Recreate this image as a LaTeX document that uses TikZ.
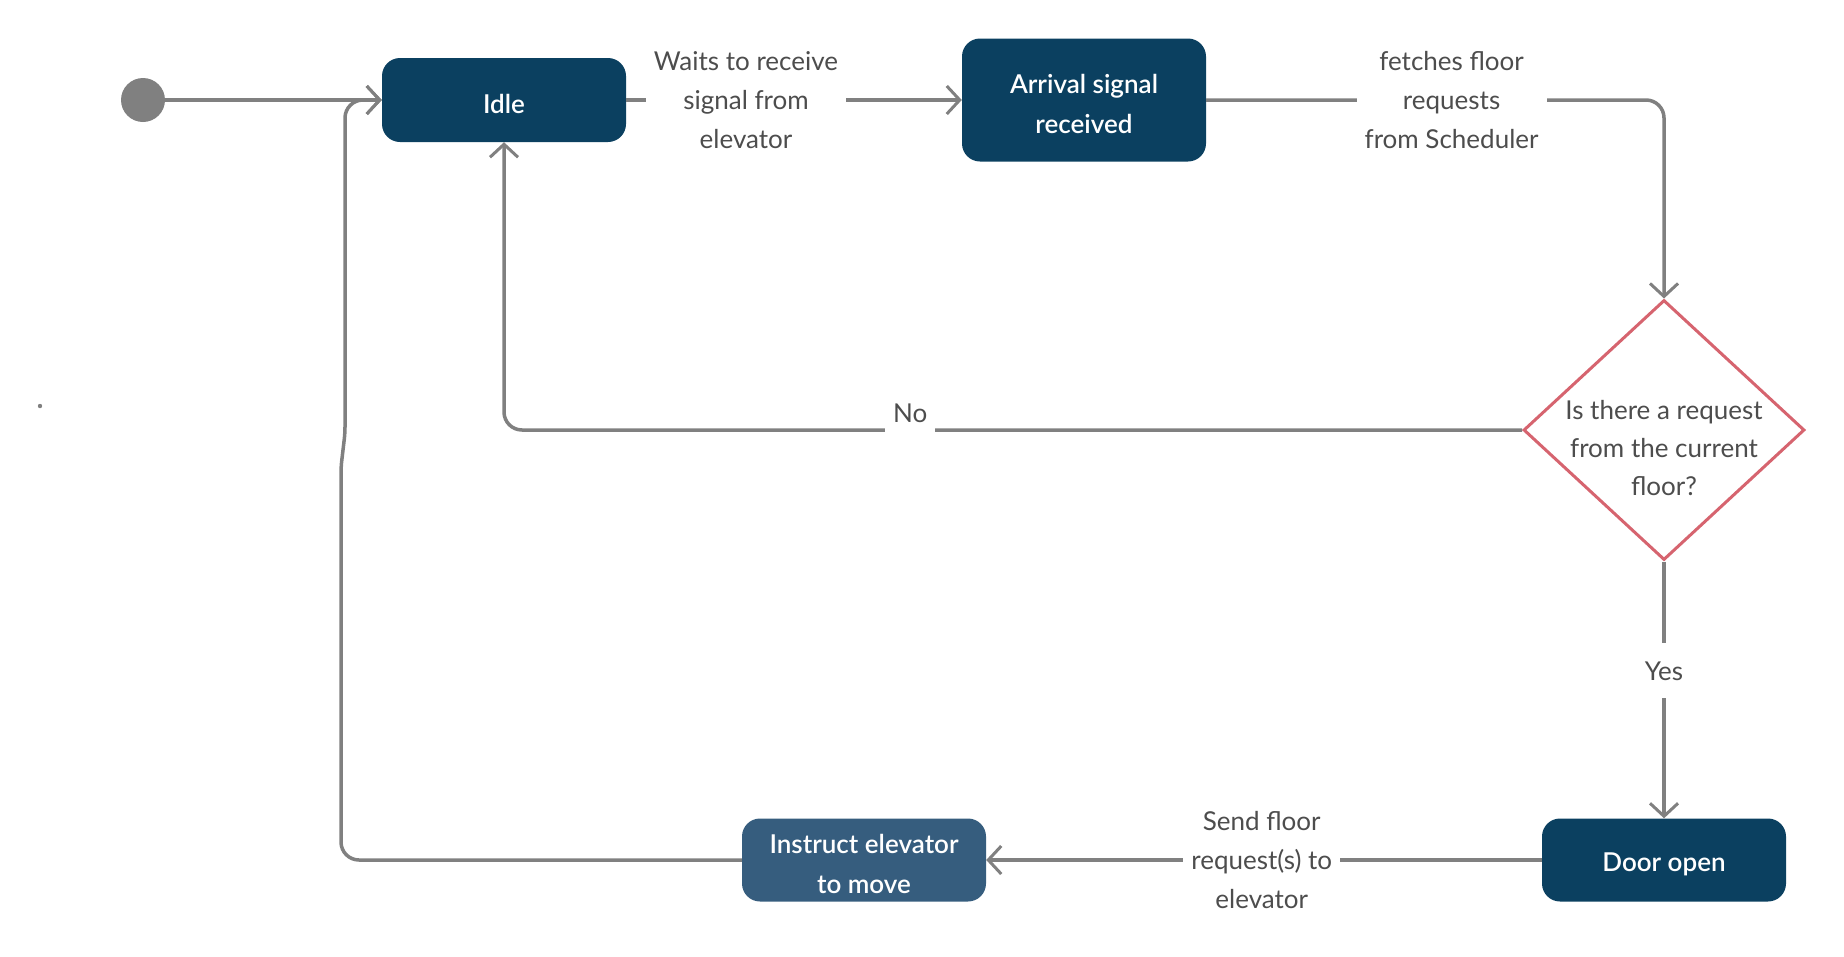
\documentclass[tikz,border=0pt]{standalone}
\usepackage{fontspec}
\setmainfont{Lato}
\newfontfamily\boxfont{Lato Semibold}
\usetikzlibrary{shapes.geometric,arrows.meta}
\definecolor{navy}{HTML}{0B4060}
\definecolor{navylight}{HTML}{365D7E}
\definecolor{lineg}{HTML}{808080}
\definecolor{labelg}{HTML}{4D4D4D}
\definecolor{decred}{HTML}{D6646F}
\tikzset{
  statebox/.style={rectangle, rounded corners=18pt, fill=navy,
    minimum width=244pt, minimum height=84pt, inner sep=0pt},
  boxtext/.style={label={[text=white, align=center, yshift=-4pt,
    font=\boxfont\fontsize{26}{40}\selectfont]center:#1}},
  decision/.style={diamond, draw=decred, line width=3pt, fill=white,
    minimum width=281pt, minimum height=260pt, inner sep=0pt},
  conn/.style={draw=lineg, line width=3.5pt,
    -{Straight Barb[length=13pt,width=28pt,line width=3pt]}},
  lbl/.style={sharp corners, fill=white, text=labelg, align=center, inner xsep=8pt, inner ysep=0pt,
    font=\fontsize{26}{39}\selectfont},
}
\begin{document}
\begin{tikzpicture}[x=1pt,y=-1pt]
\useasboundingbox (0,0) rectangle (1844,956);
\fill[lineg] (40,406) circle (2.2pt);
\node[circle, fill=lineg, minimum size=44pt, inner sep=0pt] (start) at (143,100) {};
\node[statebox, boxtext={Idle}] (idle) at (504,100) {};
\node[statebox, minimum height=123pt, boxtext={Arrival signal\\received}] (arr) at (1084,100) {};
\node[decision, label={[text=labelg, align=center, font=\fontsize{26}{38}\selectfont, yshift=-18pt]center:Is there a request\\from the current\\floor?}] (dec) at (1664,430) {};
\node[statebox, minimum height=83pt, boxtext={Door open}] (door) at (1664,860) {};
\node[statebox, minimum height=83pt, fill=navylight, boxtext={Instruct elevator\\to move}] (instr) at (864,860) {};
\coordinate (r1) at (341,860);
\coordinate (r2) at (341,467);
\coordinate (r3) at (345,433);
\coordinate (r4) at (345,100);

\draw[conn] (start) -- (idle.west);
\draw[conn] (idle.east) -- node[lbl, pos=0.357]{Waits to receive\\signal from\\elevator} (arr.west);
\draw[conn, rounded corners=18pt] (arr.east) -- node[lbl, pos=0.536]{fetches floor\\requests\\from Scheduler} (arr.east -| dec.north) -- (dec.north);
\draw[conn, rounded corners=18pt] (dec.west) -- node[lbl, pos=0.601, anchor=base, yshift=8pt]{\strut No} (dec.west -| idle.south) -- (idle.south);
\draw[conn] (dec.south) -- node[lbl, pos=0.426, inner ysep=18pt]{Yes} (door.north);
\draw[conn] (door.west) -- node[lbl, pos=0.504]{Send floor\\request(s) to\\elevator} (instr.east);
\draw[conn] (instr.west) [rounded corners=18pt] -- (r1) [rounded corners=6pt] -- (r2) -- (r3) [rounded corners=18pt] -- (r4) -- (idle.west);
\end{tikzpicture}
\end{document}
